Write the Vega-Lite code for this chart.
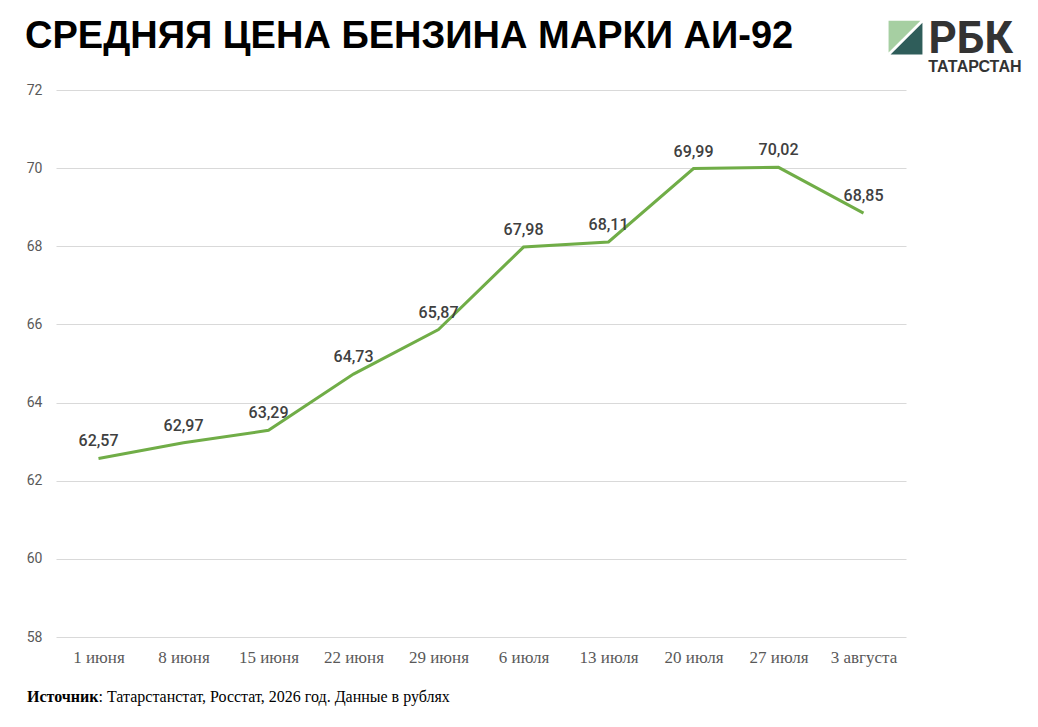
{
  "$schema": "https://vega.github.io/schema/vega-lite/v6.json",
  "width": 850,
  "height": 547,
  "autosize": "none",
  "padding": {"left": 56, "top": 90, "right": 132, "bottom": 90},
  "background": "white",
  "title": {
    "text": "СРЕДНЯЯ ЦЕНА БЕНЗИНА МАРКИ АИ-92",
    "anchor": "start",
    "frame": "group",
    "dx": -31,
    "offset": -38,
    "font": "Liberation Sans",
    "fontSize": 38,
    "fontWeight": "bold",
    "color": "black"
  },
  "config": {
    "view": {"stroke": null},
    "locale": {"number": {"decimal": ",", "thousands": " ", "grouping": [3], "currency": ["", " ₽"]}},
    "axis": {"domain": false, "ticks": false, "labelColor": "#595959"}
  },
  "encoding": {
    "x": {
      "field": "date", "type": "ordinal", "sort": null,
      "scale": {"type": "point", "padding": 0.5,
        "domain": ["1 июня", "8 июня", "15 июня", "22 июня", "29 июня", "6 июля", "13 июля", "20 июля", "27 июля", "3 августа"]},
      "axis": {
        "labelAngle": 0, "labelFont": "Liberation Serif", "labelFontSize": 17,
        "labelPadding": 12, "title": null
      }
    },
    "y": {
      "field": "price", "type": "quantitative",
      "scale": {"domain": [58, 72], "nice": false, "zero": false},
      "axis": {
        "values": [58, 60, 62, 64, 66, 68, 70, 72], "format": "d",
        "title": null, "labelFont": "Roboto", "labelFontSize": 14, "labelPadding": 14,
        "gridColor": "#d9d9d9"
      }
    }
  },
  "layer": [
    {
      "data": {"values": [
        {"date": "1 июня", "price": 62.57},
        {"date": "8 июня", "price": 62.97},
        {"date": "15 июня", "price": 63.29},
        {"date": "22 июня", "price": 64.73},
        {"date": "29 июня", "price": 65.87},
        {"date": "6 июля", "price": 67.98},
        {"date": "13 июля", "price": 68.11},
        {"date": "20 июля", "price": 69.99},
        {"date": "27 июля", "price": 70.02},
        {"date": "3 августа", "price": 68.85}
      ]},
      "layer": [
        {"mark": {"type": "line", "color": "#70ad47", "strokeWidth": 3}},
        {
          "mark": {"type": "text", "baseline": "alphabetic", "dy": -12, "font": "Roboto", "fontSize": 16, "fontWeight": 500, "color": "#404040"},
          "encoding": {"text": {"field": "price", "type": "quantitative", "format": ".2f"}}
        }
      ]
    },
    {
      "data": {"values": [
        {"date": "3 августа", "price": 73.34, "part": "light"},
        {"date": "3 августа", "price": 73.34, "part": "dark"}
      ]},
      "mark": {"type": "point", "filled": true, "xOffset": 42, "size": 1150, "opacity": 1, "strokeWidth": 0},
      "encoding": {
        "shape": {"field": "part", "type": "nominal", "legend": null,
          "scale": {"domain": ["light", "dark"], "range": ["M -1 -1 L 0.88 -1 L -1 0.88 Z", "M 1 -0.88 L 1 1 L -0.88 1 Z"]}},
        "color": {"field": "part", "type": "nominal", "legend": null,
          "scale": {"domain": ["light", "dark"], "range": ["#a6cfa2", "#2f5d5a"]}}
      }
    },
    {
      "data": {"values": [
        {"date": "3 августа", "price": 72.94, "label": "РБК"}
      ]},
      "mark": {"type": "text", "align": "left", "baseline": "alphabetic", "dx": 65, "font": "Roboto", "fontSize": 44, "fontWeight": "bold", "color": "#333333"},
      "encoding": {"text": {"field": "label"}}
    },
    {
      "data": {"values": [
        {"date": "3 августа", "price": 72.45, "label": "ТАТАРСТАН"}
      ]},
      "mark": {"type": "text", "align": "right", "baseline": "alphabetic", "dx": 158, "font": "Liberation Sans", "fontSize": 16, "fontWeight": "bold", "color": "#333333"},
      "encoding": {"text": {"field": "label"}}
    },
    {
      "data": {"values": [
        {"date": "1 июня", "price": 56.34, "label": "Источник"}
      ]},
      "mark": {"type": "text", "align": "left", "baseline": "alphabetic", "dx": -71.5, "font": "Liberation Serif", "fontSize": 16, "fontWeight": "bold", "color": "black"},
      "encoding": {"text": {"field": "label"}}
    },
    {
      "data": {"values": [
        {"date": "1 июня", "price": 56.34, "label": ": Татарстанстат, Росстат, 2026 год. Данные в рублях"}
      ]},
      "mark": {"type": "text", "align": "left", "baseline": "alphabetic", "dx": 0, "font": "Liberation Serif", "fontSize": 16, "color": "black"},
      "encoding": {"text": {"field": "label"}}
    }
  ]
}
